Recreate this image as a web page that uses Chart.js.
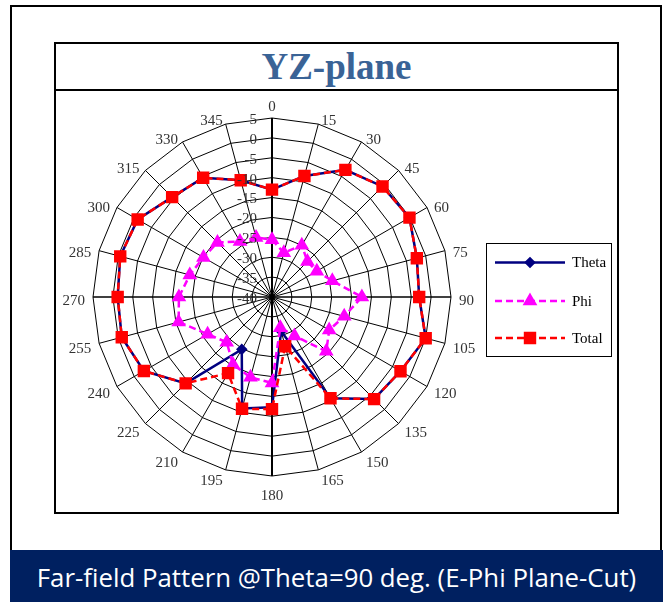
<!DOCTYPE html>
<html>
<head>
<meta charset="utf-8">
<script src="https://cdn.jsdelivr.net/npm/chart.js@4.4.1/dist/chart.umd.min.js"></script>
<style>
  body { margin: 0; width: 670px; height: 602px; background: #fff; position: relative; overflow: hidden; }
  #frame { position: absolute; left: 10px; top: 5px; width: 648px; height: 546px; border: 2px solid #000; border-bottom: none; }
  #box { position: absolute; left: 54px; top: 42px; width: 561px; height: 468px; border: 2px solid #000; }
  #title { position: absolute; left: 0; top: 0; width: 561px; height: 45px; border-bottom: 2px solid #000;
           font: bold 37px "Liberation Serif", "Times New Roman", serif; color: #3a6396; text-align: center; line-height: 46px; }
  #banner { position: absolute; left: 10px; top: 550px; width: 653px; height: 52px; background: #002060; color: #fff;
            font: 25.8px "Open Sans", sans-serif; text-align: center; line-height: 54px; white-space: nowrap; }
  #chart { position: absolute; left: 56px; top: 90px; }
</style>
</head>
<body>
<div id="frame"></div>
<div id="box"><div id="title">YZ-plane</div></div>
<canvas id="chart" width="560" height="422"></canvas>
<div id="banner">Far-field Pattern @Theta=90 deg. (E-Phi Plane-Cut)</div>
<script>
// angles (deg) and gain values (dB)
const angles = ['0', '15', '30', '45', '60', '75', '90', '105', '120', '135', '150', '165',
                '180', '195', '210', '225', '240', '255', '270', '285', '300', '315', '330', '345'];
const thetaValues = [-13.0, -8.5, -3.1, -0.7, -0.1, -2.3, -3.0, 0.0, -2.7, -3.7, -10.6, -31.1,
                     -12.3, -11.0, -24.8, -9.3, -2.8, -0.9, -1.2, -0.5, -1.0, -4.5, -5.4, -9.6];
const phiValues = [-25.6, -28.5, -25.0, -27.4, -27.0, -24.3, -17.4, -21.2, -23.4, -20.7, -28.7, -32.0,
                   -18.4, -19.1, -20.4, -23.9, -21.3, -15.7, -16.6, -18.6, -20.1, -20.6, -23.9, -24.5];
const totalValues = [-13.0, -8.5, -3.1, -0.7, -0.1, -2.3, -3.0, 0.0, -2.7, -3.7, -10.6, -27.2,
                     -11.8, -10.9, -17.9, -9.3, -2.8, -0.9, -1.2, -0.5, -1.0, -4.5, -5.4, -9.6];
const scaleMin = -40;
const scaleMax = 5;
const scaleStep = 5;

const serif = '"Liberation Serif", "Times New Roman", serif';

// tick labels + angle labels drawn next to the grid, like the Excel original
const labelsPlugin = {
    id: 'polarLabels',
    afterDraw(chart) {
        const ctx = chart.ctx;
        const r = chart.scales.r;
        ctx.save();
        ctx.fillStyle = '#333';
        ctx.font = '15px ' + serif;
        // value ticks along the 0 deg axis
        ctx.textAlign = 'right';
        ctx.textBaseline = 'middle';
        r.ticks.forEach(function(t) {
            const d = r.getDistanceFromCenterForValue(t.value);
            ctx.fillText(String(t.value), r.xCenter - 15, r.yCenter - d + 2);
        });
        // angle labels: beside the outer vertex, above/below at 0 and 180
        ctx.textAlign = 'center';
        angles.forEach(function(lab, i) {
            const p = r.getPointPosition(i, r.drawingArea);
            const a = i * 2 * Math.PI / angles.length;
            const w = ctx.measureText(lab).width;
            const s = Math.sin(a), c = Math.cos(a);
            let x, y;
            if (Math.abs(s) < 0.01) {
                x = p.x;
                y = c > 0 ? p.y - 13 : p.y + 18;
            } else {
                x = p.x + Math.sign(s) * (w / 2 + 1 + 7 * Math.abs(s));
                y = p.y - 7.45 * c + 2.2;
            }
            ctx.fillText(lab, x, y + 2);
        });
        ctx.restore();
    }
};

// legend box on the right
const legendPlugin = {
    id: 'boxLegend',
    afterDraw(chart) {
        const ctx = chart.ctx;
        const x0 = 430, y0 = 153, w = 125, h = 113;
        ctx.save();
        ctx.strokeStyle = '#000';
        ctx.lineWidth = 1;
        ctx.strokeRect(x0 + 0.5, y0 + 0.5, w, h);
        const rows = [172.5, 211, 248];
        chart.data.datasets.forEach(function(ds, k) {
            const y = rows[k];
            ctx.beginPath();
            ctx.setLineDash(ds.borderDash || []);
            ctx.strokeStyle = ds.borderColor;
            ctx.lineWidth = ds.borderWidth;
            ctx.moveTo(x0 + 9, y);
            ctx.lineTo(x0 + 79, y);
            ctx.stroke();
            ctx.setLineDash([]);
            ctx.fillStyle = ds.pointBackgroundColor;
            ctx.strokeStyle = ds.pointBorderColor;
            Chart.helpers.drawPoint(ctx, {
                pointStyle: ds.pointStyle, radius: ds.pointRadius, rotation: 0, borderWidth: 1
            }, x0 + 44, y);
            ctx.fillStyle = '#000';
            ctx.font = '15px ' + serif;
            ctx.textAlign = 'left';
            ctx.textBaseline = 'middle';
            ctx.fillText(ds.label, x0 + 86, y + 1);
        });
        ctx.restore();
    }
};

const ctx1 = document.getElementById('chart').getContext('2d');
const polarChart = new Chart(ctx1, {
    type: 'radar',
    data: {
        labels: angles,
        datasets: [{
            label: 'Theta',
            data: thetaValues,
            borderColor: '#000080',
            borderWidth: 2.5,
            pointStyle: 'rectRot',
            pointRadius: 4,
            pointBackgroundColor: '#000080',
            pointBorderColor: '#000080',
            fill: false,
            order: 2
        }, {
            label: 'Phi',
            data: phiValues,
            borderColor: '#ff00ff',
            borderWidth: 2.5,
            borderDash: [7, 4],
            pointStyle: 'triangle',
            pointRadius: 6,
            pointBackgroundColor: '#ff00ff',
            pointBorderColor: '#ff00ff',
            fill: false,
            order: 1
        }, {
            label: 'Total',
            data: totalValues,
            borderColor: '#ff0000',
            borderWidth: 2.5,
            borderDash: [7, 4],
            pointStyle: 'rect',
            pointRadius: 7,
            pointBackgroundColor: '#ff0000',
            pointBorderColor: '#ff0000',
            fill: false,
            order: 0
        }]
    },
    options: {
        responsive: false,
        animation: false,
        layout: { padding: { left: 37, top: 28, right: 165, bottom: 36 } },
        plugins: {
            legend: { display: false },
            tooltip: { enabled: false }
        },
        elements: { line: { tension: 0 } },
        scales: {
            r: {
                min: scaleMin,
                max: scaleMax,
                ticks: { stepSize: scaleStep, display: false },
                pointLabels: { display: false },
                grid: { color: '#000', lineWidth: 1, circular: false },
                angleLines: {
                    color: '#000',
                    lineWidth: function(c) { return c.index % 12 === 0 ? 2 : (c.index % 6 === 0 ? 1.5 : 1); }
                }
            }
        }
    },
    plugins: [labelsPlugin, legendPlugin]
});
</script>
</body>
</html>
